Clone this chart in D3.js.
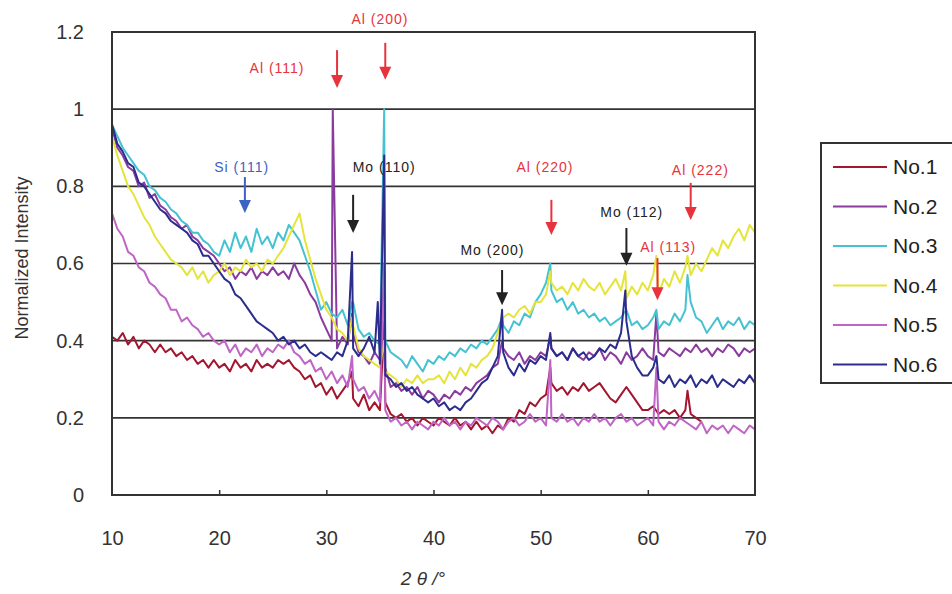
<!DOCTYPE html>
<html>
  <head>
    <meta charset="utf-8">
    <title>XRD Normalized Intensity</title>
    <script src="https://d3js.org/d3.v7.min.js"></script>
    <style>
      body { margin: 0; background: #fff; overflow: hidden; }
      text { font-family: "Liberation Sans", Arial, sans-serif; }
    </style>
  </head>
  <body>
    <div id="chart"></div>
    <script>
      // series names and colours
      const seriesNames = ['No.1', 'No.2', 'No.3', 'No.4', 'No.5', 'No.6'];
      const seriesColors = ['#a3162f', '#8a3b9e', '#45c2d2', '#e4e43a', '#c064c6', '#2c2c8e'];

      // sampling grid, 2theta from 10 to 70 in 0.5 degree steps
      const twoTheta = d3.range(10, 70.001, 0.5);

      // intensities, one value per grid angle
      const no1 = [
        0.41,0.40,0.42,0.39,0.41,0.38,0.40,0.39,0.37,0.39,
        0.37,0.38,0.36,0.37,0.35,0.36,0.34,0.35,0.33,0.35,
        0.33,0.34,0.32,0.35,0.33,0.34,0.32,0.35,0.33,0.34,
        0.33,0.35,0.34,0.35,0.33,0.32,0.30,0.31,0.28,0.29,
        0.26,0.28,0.25,0.27,0.29,0.25,0.23,0.26,0.22,0.24,
        0.22,0.24,0.21,0.20,0.21,0.19,0.20,0.18,0.20,0.19,
        0.18,0.20,0.19,0.18,0.20,0.18,0.19,0.17,0.19,0.17,
        0.18,0.16,0.18,0.17,0.20,0.19,0.22,0.21,0.24,0.23,
        0.25,0.26,0.29,0.27,0.28,0.26,0.28,0.27,0.29,0.27,
        0.28,0.29,0.27,0.25,0.24,0.26,0.28,0.26,0.24,0.22,
        0.22,0.23,0.21,0.22,0.21,0.22,0.20,0.22,0.21,0.20,
        0.19,null,null,null,null,null,null,null,null,null,
        null
      ];
      const no2 = [
        0.95,0.90,0.88,0.85,0.84,0.80,0.81,0.77,0.78,0.75,
        0.74,0.72,0.71,0.69,0.70,0.67,0.66,0.64,0.63,0.62,
        0.60,0.58,0.59,0.56,0.58,0.57,0.59,0.56,0.58,0.57,
        0.59,0.57,0.58,0.56,0.60,0.57,0.55,0.52,0.50,0.46,
        0.43,0.40,0.38,0.41,0.39,0.42,0.37,0.36,0.34,0.37,
        0.35,0.33,0.28,0.29,0.27,0.28,0.26,0.28,0.25,0.27,
        0.26,0.24,0.26,0.25,0.27,0.26,0.28,0.27,0.29,0.30,
        0.31,0.33,0.34,0.38,0.36,0.35,0.37,0.34,0.36,0.35,
        0.37,0.36,0.38,0.36,0.37,0.35,0.38,0.36,0.35,0.37,
        0.36,0.38,0.35,0.37,0.36,0.34,0.37,0.35,0.36,0.38,
        0.36,0.35,0.37,0.36,0.38,0.37,0.36,0.38,0.37,0.39,
        0.37,0.38,0.36,0.38,0.37,0.39,0.38,0.36,0.38,0.37,
        0.38
      ];
      const no3 = [
        0.96,0.93,0.90,0.88,0.86,0.84,0.83,0.80,0.79,0.77,
        0.76,0.74,0.73,0.71,0.70,0.68,0.68,0.66,0.65,0.63,
        0.62,0.66,0.63,0.68,0.64,0.67,0.63,0.69,0.65,0.67,
        0.64,0.68,0.66,0.70,0.68,0.66,0.62,0.58,0.53,0.48,
        0.50,0.47,0.46,0.48,0.44,0.50,0.43,0.41,0.42,0.40,
        0.39,0.40,0.37,0.36,0.35,0.33,0.36,0.34,0.32,0.35,
        0.34,0.36,0.35,0.37,0.36,0.38,0.37,0.39,0.38,0.40,
        0.39,0.41,0.43,0.44,0.42,0.45,0.44,0.47,0.46,0.50,
        0.52,0.55,0.53,0.50,0.51,0.48,0.50,0.47,0.48,0.46,
        0.47,0.45,0.46,0.44,0.45,0.46,0.48,0.44,0.45,0.43,
        0.44,0.46,0.43,0.45,0.44,0.47,0.45,0.48,0.50,0.46,
        0.45,0.42,0.44,0.46,0.43,0.45,0.44,0.46,0.43,0.45,
        0.44
      ];
      const no4 = [
        0.93,0.88,0.84,0.80,0.78,0.75,0.72,0.70,0.67,0.65,
        0.63,0.61,0.60,0.59,0.57,0.59,0.56,0.58,0.55,0.57,
        0.58,0.60,0.57,0.59,0.58,0.61,0.59,0.60,0.58,0.61,
        0.60,0.62,0.64,0.67,0.70,0.73,0.66,0.61,0.56,0.52,
        0.48,0.46,0.43,0.42,0.40,0.44,0.38,0.36,0.35,0.34,
        0.33,0.32,0.31,0.30,0.28,0.30,0.29,0.31,0.29,0.30,
        0.30,0.31,0.29,0.32,0.30,0.33,0.31,0.34,0.33,0.35,
        0.36,0.38,0.42,0.46,0.47,0.46,0.48,0.49,0.47,0.50,
        0.50,0.52,0.55,0.53,0.54,0.52,0.55,0.53,0.56,0.54,
        0.53,0.55,0.52,0.54,0.56,0.53,0.51,0.54,0.52,0.55,
        0.53,0.57,0.52,0.56,0.54,0.58,0.55,0.59,0.57,0.60,
        0.58,0.61,0.64,0.62,0.66,0.64,0.67,0.69,0.66,0.70,
        0.68
      ];
      const no5 = [
        0.73,0.69,0.67,0.63,0.62,0.59,0.58,0.55,0.54,0.52,
        0.51,0.48,0.48,0.45,0.46,0.44,0.43,0.41,0.42,0.40,
        0.39,0.40,0.37,0.39,0.36,0.38,0.37,0.39,0.36,0.38,
        0.37,0.39,0.38,0.40,0.37,0.36,0.34,0.35,0.32,0.33,
        0.30,0.32,0.29,0.31,0.28,0.30,0.27,0.28,0.25,0.27,
        0.24,0.22,0.19,0.20,0.18,0.19,0.17,0.19,0.18,0.17,
        0.19,0.18,0.20,0.18,0.19,0.17,0.19,0.18,0.20,0.19,
        0.18,0.20,0.19,0.17,0.19,0.20,0.18,0.19,0.21,0.19,
        0.20,0.18,0.20,0.19,0.21,0.19,0.20,0.18,0.20,0.19,
        0.21,0.19,0.20,0.18,0.20,0.21,0.19,0.20,0.18,0.19,
        0.20,0.18,0.19,0.17,0.19,0.18,0.20,0.19,0.18,0.17,
        0.19,0.16,0.18,0.17,0.18,0.16,0.18,0.17,0.16,0.18,
        0.17
      ];
      const no6 = [
        0.96,0.91,0.89,0.86,0.85,0.81,0.80,0.78,0.76,0.74,
        0.73,0.71,0.70,0.69,0.68,0.66,0.65,0.62,0.62,0.60,
        0.58,0.56,0.55,0.52,0.51,0.49,0.47,0.45,0.44,0.43,
        0.42,0.40,0.41,0.39,0.40,0.38,0.39,0.37,0.36,0.37,
        0.36,0.35,0.37,0.36,0.40,0.38,0.36,0.38,0.41,0.37,
        0.34,0.31,0.30,0.28,0.29,0.27,0.28,0.26,0.25,0.24,
        0.25,0.23,0.24,0.22,0.23,0.22,0.24,0.25,0.27,0.29,
        0.30,0.33,0.36,0.37,0.33,0.31,0.34,0.32,0.35,0.34,
        0.36,0.35,0.38,0.36,0.37,0.35,0.38,0.36,0.37,0.35,
        0.36,0.38,0.37,0.39,0.38,0.42,0.45,0.36,0.33,0.31,
        0.31,0.33,0.30,0.29,0.31,0.28,0.30,0.29,0.31,0.28,
        0.30,0.29,0.31,0.28,0.30,0.29,0.28,0.30,0.29,0.31,
        0.29
      ];
      const seriesValues = [no1, no2, no3, no4, no5, no6];

      // sharp diffraction peaks (angle, then height per series; null = no peak)
      const peakAngles = [30.6, 32.4, 34.8, 35.4, 46.4, 50.9, 57.9, 60.8, 63.7];
      const peakHeights = [
        [null, 0.32, null, 0.45, null, 0.33, null, null, 0.27],
        [1.00, 0.47, null, 0.55, 0.40, 0.41, null, 0.47, null],
        [null, 0.50, null, 1.00, 0.46, 0.60, null, 0.48, 0.57],
        [null, 0.46, null, 0.40, null, 0.58, 0.58, 0.62, 0.62],
        [null, 0.36, null, 0.60, null, 0.35, null, 0.33, null],
        [null, 0.63, 0.50, 0.88, 0.48, 0.42, 0.53, 0.36, null]
      ];

      // peak labels: text, label angle/height, arrow angle, arrow top/bottom
      const annText = ['Al (111)', 'Al (200)', 'Si (111)', 'Mo (110)', 'Al (220)', 'Mo (200)', 'Mo (112)', 'Al (222)', 'Al (113)'];
      const annTextAngle = [25.4, 35.0, 22.1, 35.4, 50.4, 45.5, 58.5, 64.9, 61.9];
      const annTextValue = [1.095, 1.222, 0.837, 0.837, 0.837, 0.622, 0.720, 0.829, 0.630];
      const annArrowAngle = [31.0, 35.5, 22.4, 32.5, 51.0, 46.4, 58.0, 64.0, 60.9];
      const annArrowTop = [1.153, 1.172, 0.824, 0.778, 0.765, 0.583, 0.692, 0.809, 0.614];
      const annArrowBottom = [1.055, 1.076, 0.731, 0.679, 0.674, 0.492, 0.594, 0.713, 0.505];
      const annColor = ['#e8323c', '#e8323c', '#3c62c4', '#222', '#e8323c', '#222', '#222', '#e8323c', '#e8323c'];

      const xTicks = [10, 20, 30, 40, 50, 60, 70];
      const yTicks = [0, 0.2, 0.4, 0.6, 0.8, 1, 1.2];

      const margin = { top: 32, left: 112 };
      const width = 643;
      const height = 463;

      const svg = d3.select('#chart')
        .append('svg')
        .attr('width', 952)
        .attr('height', 594)
        .style('display', 'block');

      const g = svg.append('g')
        .attr('transform', 'translate(' + margin.left + ',' + margin.top + ')');

      const x = d3.scaleLinear().domain([10, 70]).range([0, width]);
      const y = d3.scaleLinear().domain([0, 1.2]).range([height, 0]);

      // horizontal grid lines
      g.append('g')
        .selectAll('line')
        .data(yTicks.slice(1))
        .enter()
        .append('line')
        .attr('x1', 0)
        .attr('x2', width)
        .attr('y1', d => y(d))
        .attr('y2', d => y(d))
        .attr('stroke', '#333')
        .attr('stroke-width', 1.6);

      // build each series from grid + peaks
      const series = seriesValues.map((vals, s) => {
        const pts = twoTheta.map((a, i) => ({ x: a, y: vals[i] }));
        peakAngles.forEach((a, k) => {
          const h = peakHeights[s][k];
          if (h !== null) pts.push({ x: a, y: h });
        });
        pts.sort((p, q) => p.x - q.x);
        return pts;
      });

      const line = d3.line()
        .defined(d => d.y !== null)
        .x(d => x(d.x))
        .y(d => y(d.y));

      g.selectAll('.series')
        .data(series)
        .enter()
        .append('path')
        .attr('class', 'series')
        .attr('fill', 'none')
        .attr('stroke', (d, i) => seriesColors[i])
        .attr('stroke-width', 2)
        .attr('stroke-linejoin', 'round')
        .attr('d', line);

      // plot frame
      g.append('rect')
        .attr('x', 0)
        .attr('y', 0)
        .attr('width', width)
        .attr('height', height)
        .attr('fill', 'none')
        .attr('stroke', '#333')
        .attr('stroke-width', 2);

      // x axis with small inside ticks
      const xAxis = g.append('g')
        .attr('transform', 'translate(0,' + height + ')')
        .call(d3.axisBottom(x).tickValues(xTicks).tickSizeInner(-5).tickSizeOuter(0).tickPadding(36));
      xAxis.select('.domain').remove();
      xAxis.selectAll('.tick line').attr('stroke', '#333').attr('stroke-width', 1.5);
      xAxis.selectAll('.tick line').filter(d => d === 10 || d === 70).remove();
      xAxis.selectAll('text')
        .attr('font-size', 20)
        .attr('fill', '#333')
        .attr('font-family', '"Liberation Sans", Arial, sans-serif');

      // y axis labels
      const yAxis = g.append('g')
        .call(d3.axisLeft(y).tickValues(yTicks).tickFormat(d3.format('~g')).tickSize(0).tickPadding(28));
      yAxis.select('.domain').remove();
      yAxis.selectAll('text')
        .attr('font-size', 20)
        .attr('fill', '#333')
        .attr('font-family', '"Liberation Sans", Arial, sans-serif');

      // axis titles
      svg.append('text')
        .attr('transform', 'translate(28,258) rotate(-90)')
        .attr('text-anchor', 'middle')
        .attr('font-size', 18)
        .attr('fill', '#333')
        .text('Normalized Intensity');

      svg.append('text')
        .attr('x', 423)
        .attr('y', 585)
        .attr('text-anchor', 'middle')
        .attr('font-size', 19)
        .attr('font-style', 'italic')
        .attr('fill', '#333')
        .text('2 θ /°');

      // peak annotations
      const ann = g.append('g');
      annText.forEach((t, i) => {
        ann.append('text')
          .attr('x', x(annTextAngle[i]))
          .attr('y', y(annTextValue[i]))
          .attr('text-anchor', 'middle')
          .attr('font-size', 14)
          .attr('letter-spacing', 1)
          .attr('fill', annColor[i])
          .text(t);
        const ax = x(annArrowAngle[i]);
        const yt = y(annArrowTop[i]);
        const yb = y(annArrowBottom[i]);
        ann.append('line')
          .attr('x1', ax).attr('x2', ax)
          .attr('y1', yt).attr('y2', yb - 10)
          .attr('stroke', annColor[i])
          .attr('stroke-width', 2);
        ann.append('path')
          .attr('d', 'M' + (ax - 6) + ',' + (yb - 13) + 'L' + (ax + 6) + ',' + (yb - 13) + 'L' + ax + ',' + yb + 'Z')
          .attr('fill', annColor[i]);
      });

      // legend (box runs off the right edge, so only top, left and bottom sides)
      const legend = svg.append('g').attr('transform', 'translate(821,143)');
      legend.append('line')
        .attr('x1', 0).attr('x2', 131).attr('y1', 0).attr('y2', 0)
        .attr('stroke', '#333').attr('stroke-width', 2);
      legend.append('line')
        .attr('x1', 0).attr('x2', 131).attr('y1', 240).attr('y2', 240)
        .attr('stroke', '#333').attr('stroke-width', 2);
      legend.append('line')
        .attr('x1', 0).attr('x2', 0).attr('y1', -1).attr('y2', 241)
        .attr('stroke', '#333').attr('stroke-width', 2);
      const items = legend.selectAll('.item')
        .data(seriesNames)
        .enter()
        .append('g')
        .attr('class', 'item')
        .attr('transform', (d, i) => 'translate(0,' + (24 + i * 39.5) + ')');
      items.append('line')
        .attr('x1', 12)
        .attr('x2', 66)
        .attr('stroke', (d, i) => seriesColors[i])
        .attr('stroke-width', 2);
      items.append('text')
        .attr('x', 72)
        .attr('dy', '0.35em')
        .attr('font-size', 21)
        .attr('fill', '#222')
        .text(d => d);
    </script>
  </body>
</html>
